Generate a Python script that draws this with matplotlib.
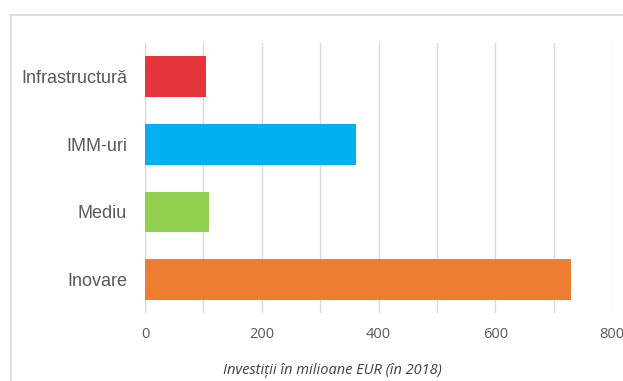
import matplotlib
matplotlib.use('Agg')
import matplotlib.pyplot as plt
from matplotlib.lines import Line2D

categories = ['Inovare', 'Mediu', 'IMM-uri', 'Infrastructură']
values = [730, 110, 362, 105]
colors = ['#ED7D31', '#92D050', '#00B0F0', '#E3353A']
xticks = [0, 200, 400, 600, 800]

W, H = 623, 381
fig = plt.figure(figsize=(W / 100, H / 100), dpi=100)
fig.patch.set_facecolor('white')

# light frame around the chart area (runs off the right and bottom edges)
fig.add_artist(Line2D([11 / W, 11 / W], [0, 1 - 15 / H], transform=fig.transFigure,
                      color='#D9D9D9', lw=1.2))
fig.add_artist(Line2D([11 / W, 1], [1 - 15 / H, 1 - 15 / H], transform=fig.transFigure,
                      color='#D9D9D9', lw=1.2))

ax = fig.add_axes([145 / W, 1 - 313 / H, (612 - 145) / W, (313 - 43) / H])
ax.barh(range(len(categories)), values, height=0.6, color=colors, zorder=3)

ax.set_xlim(0, 800)
ax.set_ylim(-0.5, len(categories) - 0.5)
ax.set_xticks(xticks)
ax.set_xticks(range(100, 800, 200), minor=True)
ax.grid(axis='x', which='both', color='#D9D9D9', lw=1, zorder=0)
ax.set_xticklabels([str(t) for t in xticks], fontfamily='Open Sans', fontsize=10.5,
                   color='#595959')
ax.set_yticks(range(len(categories)))
ax.set_yticklabels(categories, fontfamily='Liberation Sans', fontsize=13, color='#595959')
ax.tick_params(axis='x', which='both', length=0, pad=10)
ax.tick_params(axis='y', length=0, pad=13)
for s in ax.spines.values():
    s.set_visible(False)
ax.axvline(0, color='#D9D9D9', lw=1, zorder=2)

fig.text(332 / W, 1 - 370 / H, 'Investiții în milioane EUR (în 2018)', ha='center',
         va='center', fontfamily='Open Sans', fontstyle='italic', fontsize=10.5,
         color='#404040')

fig.savefig('out.png', dpi=100)
